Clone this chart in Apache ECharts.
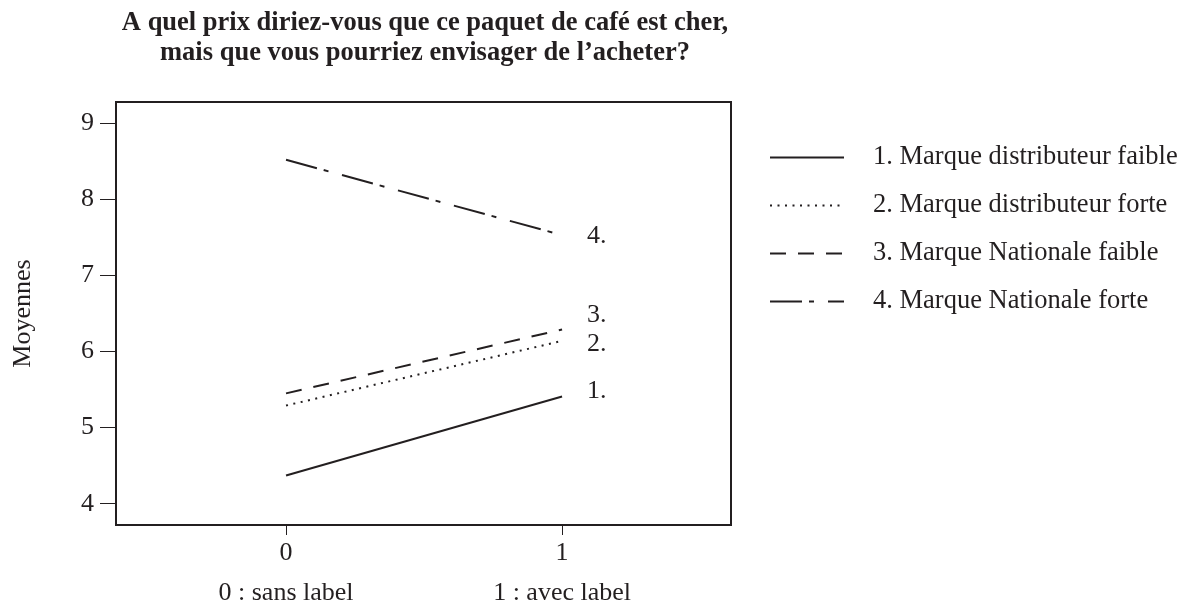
<!DOCTYPE html>
<html>
<head>
<meta charset="utf-8">
<script src="https://cdn.jsdelivr.net/npm/echarts@6/dist/echarts.min.js"></script>
<style>
  html, body { margin: 0; padding: 0; background: #fff; }
  #chart { width: 1183px; height: 602px; }
</style>
</head>
<body>
<div id="chart"></div>
<script>
// data
const xValues = [0, 1]
const xTickNames = ['0 : sans label', '1 : avec label']
const yTicks = [4, 5, 6, 7, 8, 9]
const seriesNames = [
  '1. Marque distributeur faible',
  '2. Marque distributeur forte',
  '3. Marque Nationale faible',
  '4. Marque Nationale forte'
]
const endTags = ['1.', '2.', '3.', '4.']
const mdFaible = [4.37, 5.41]
const mdForte = [5.29, 6.14]
const mnFaible = [5.45, 6.29]
const mnForte = [8.52, 7.53]

const ink = '#231f20'
const serif = '"Liberation Serif", "Times New Roman", serif'

// line styles + label nudges
const dashes = ['solid', [2, 5.5], [16, 12], [32, 7, 5, 14]]
const tagOffsets = [[0, -5], [0, 3], [0, -14], [0, 1]]
const values = [mdFaible, mdForte, mnFaible, mnForte]

const chart = echarts.init(document.getElementById('chart'))

chart.setOption({
  backgroundColor: '#fff',
  animation: false,
  title: {
    text: 'A quel prix diriez-vous que ce paquet de café est cher,\nmais que vous pourriez envisager de l\u2019acheter?',
    left: 420,
    textAlign: 'center',
    top: 3,
    textStyle: {
      fontFamily: serif,
      fontWeight: 'bold',
      fontSize: 26.5,
      lineHeight: 30,
      color: ink
    }
  },
  legend: {
    orient: 'vertical',
    left: 764,
    top: 139,
    itemWidth: 74,
    itemHeight: 14,
    itemGap: 21,
    data: seriesNames,
    itemStyle: { opacity: 0 },
    textStyle: {
      fontFamily: serif,
      fontSize: 26.5,
      color: ink,
      padding: [0, 0, 0, 24]
    }
  },
  grid: {
    left: 116,
    right: 452,
    top: 102,
    bottom: 77,
    outerBoundsMode: 'none',
    show: true,
    borderColor: ink,
    borderWidth: 2
  },
  xAxis: [
    {
      type: 'value',
      min: -0.616,
      max: 1.612,
      splitLine: { show: false },
      axisLine: { onZero: false, lineStyle: { color: ink, width: 2 } },
      axisTick: { customValues: xValues, length: 10, lineStyle: { color: ink, width: 1 } },
      axisLabel: {
        customValues: xValues,
        margin: 15,
        fontFamily: serif,
        fontSize: 26,
        color: ink
      }
    },
    {
      type: 'value',
      position: 'bottom',
      min: -0.616,
      max: 1.612,
      splitLine: { show: false },
      axisLine: { show: false },
      axisTick: { show: false },
      axisLabel: {
        customValues: xValues,
        margin: 55,
        fontFamily: serif,
        fontSize: 26,
        color: ink,
        formatter: function (v) { return xTickNames[xValues.indexOf(v)] }
      }
    }
  ],
  yAxis: {
    type: 'value',
    min: 3.72,
    max: 9.28,
    name: 'Moyennes',
    nameLocation: 'middle',
    nameRotate: 90,
    nameGap: 80,
    nameTextStyle: { fontFamily: serif, fontSize: 26, color: ink },
    splitLine: { show: false },
    axisLine: { show: true, onZero: false, lineStyle: { color: ink, width: 2 } },
    axisTick: { customValues: yTicks, length: 16, lineStyle: { color: ink, width: 1 } },
    axisLabel: {
      customValues: yTicks,
      margin: 22,
      fontFamily: serif,
      fontSize: 26,
      color: ink
    }
  },
  series: seriesNames.map(function (name, i) {
    return {
      name: name,
      type: 'line',
      xAxisIndex: 0,
      symbol: 'none',
      data: xValues.map(function (x, j) { return [x, values[i][j]] }),
      lineStyle: { color: ink, width: 2, type: dashes[i] },
      itemStyle: { color: ink },
      endLabel: {
        show: true,
        formatter: endTags[i],
        distance: 25,
        offset: tagOffsets[i],
        fontFamily: serif,
        fontSize: 26,
        color: ink
      }
    }
  })
})
</script>
</body>
</html>
